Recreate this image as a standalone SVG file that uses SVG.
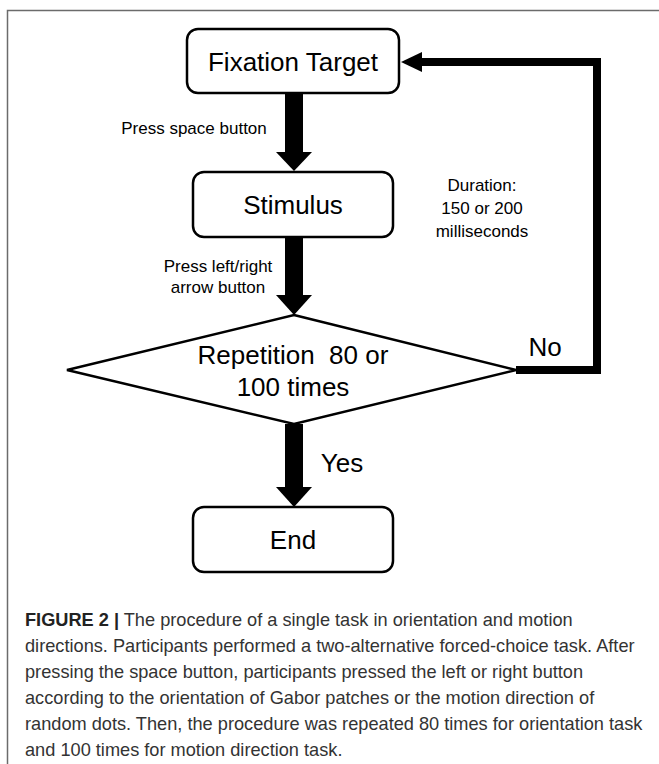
<svg xmlns="http://www.w3.org/2000/svg" width="659" height="764" viewBox="0 0 659 764">
<style>
.box{fill:#fff;stroke:#000;stroke-width:2.5}
.big{font-family:"Liberation Sans",Arial,sans-serif;font-size:26px;fill:#000;text-anchor:middle;white-space:pre}
.small{font-family:"Liberation Sans",Arial,sans-serif;font-size:17px;fill:#000;text-anchor:middle}
.cap{font-family:"Liberation Sans",Arial,sans-serif;font-size:18.2px;fill:#333}
.shaft{fill:#000}
.loop{fill:none;stroke:#000;stroke-width:8}
</style>
<rect width="659" height="764" fill="#fff"/>
<path d="M7.5,764 V10.5 H659" fill="none" stroke="#6b6b6b" stroke-width="1.5"/>
<g id="fixation">
<rect class="box" x="187" y="29" width="212" height="64" rx="11"/>
<text class="big" x="293" y="71">Fixation Target</text>
</g>
<g id="stimulus">
<rect class="box" x="193" y="172" width="200" height="65" rx="11"/>
<text class="big" x="293" y="214">Stimulus</text>
</g>
<g id="decision">
<polygon class="box" points="294,315 516,370 294,424 67,370" stroke-width="2"/>
<text class="big" x="293" y="364" xml:space="preserve">Repetition  80 or</text>
<text class="big" x="293" y="396">100 times</text>
</g>
<g id="end">
<rect class="box" x="193" y="507" width="200" height="65" rx="11"/>
<text class="big" x="293" y="549">End</text>
</g>
<g id="connectors">
<rect class="shaft" x="285" y="93" width="18" height="60"/>
<polygon class="shaft" points="276,152 312,152 294,171"/>
<rect class="shaft" x="285" y="237" width="18" height="59"/>
<polygon class="shaft" points="276,295 312,295 294,315"/>
<rect class="shaft" x="285" y="424" width="18" height="64"/>
<polygon class="shaft" points="276,487 312,487 294,507"/>
<path class="loop" d="M516,370 H597 V62 H418"/>
<polygon class="shaft" points="401,62 422,52 422,72"/>
</g>
<g id="labels">
<text class="small" x="194" y="134">Press space button</text>
<text class="small" x="482" y="191">Duration:</text>
<text class="small" x="482" y="214">150 or 200</text>
<text class="small" x="482" y="237">milliseconds</text>
<text class="small" x="218" y="272">Press left/right</text>
<text class="small" x="218" y="293">arrow button</text>
<text class="big" x="545" y="356">No</text>
<text class="big" x="342" y="472">Yes</text>
</g>
<g id="caption">
<text class="cap" x="25" y="626"><tspan font-weight="bold" fill="#222">FIGURE 2 |</tspan> The procedure of a single task in orientation and motion</text>
<text class="cap" x="25" y="652">directions. Participants performed a two-alternative forced-choice task. After</text>
<text class="cap" x="25" y="678">pressing the space button, participants pressed the left or right button</text>
<text class="cap" x="25" y="704">according to the orientation of Gabor patches or the motion direction of</text>
<text class="cap" x="25" y="730">random dots. Then, the procedure was repeated 80 times for orientation task</text>
<text class="cap" x="25" y="756">and 100 times for motion direction task.</text>
</g>
</svg>
